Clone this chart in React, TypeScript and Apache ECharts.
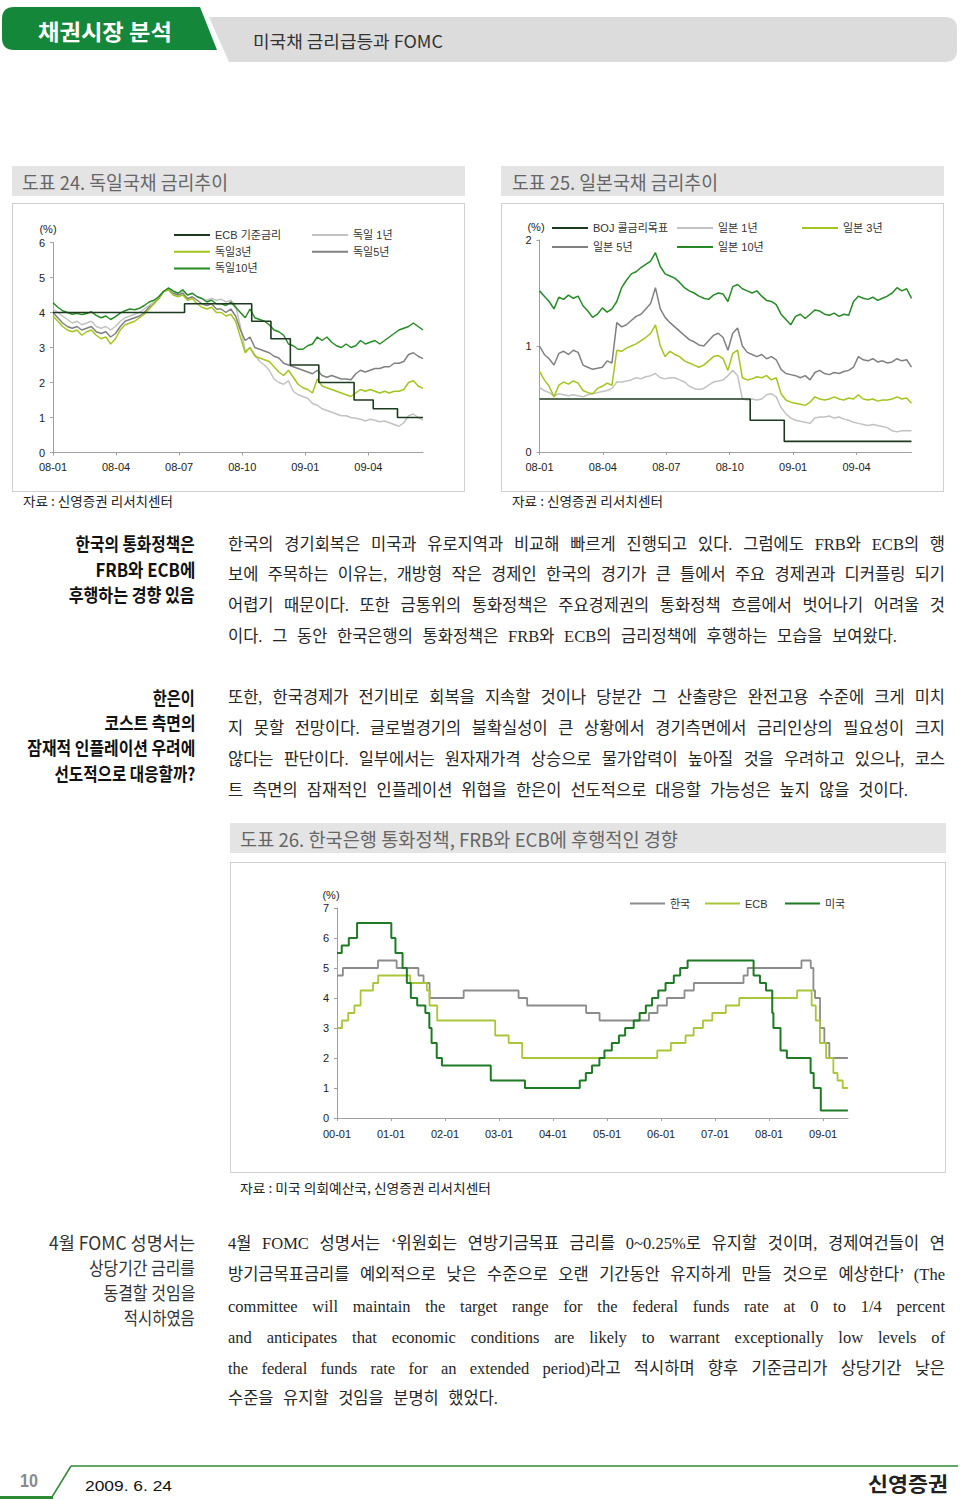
import React, { useEffect, useLayoutEffect, useRef } from 'react';
import * as echarts from 'echarts';

// ---------------- data ----------------
const DE_MONTH_LABELS = ['08-01', '08-04', '08-07', '08-10', '09-01', '09-04'];
const KR_YEAR_LABELS = ['00-01', '01-01', '02-01', '03-01', '04-01', '05-01', '06-01', '07-01', '08-01', '09-01'];

// weekly observations, 2008-01-01 .. 2009-06-19 (78 obs)
const DE_1Y = [4.1, 4.0, 3.9, 3.8, 3.7, 3.75, 3.65, 3.7, 3.75, 3.6,
  3.55, 3.6, 3.5, 3.6, 3.75, 3.85, 3.9, 3.95, 4.0, 4.1,
  4.2, 4.3, 4.45, 4.6, 4.7, 4.6, 4.55, 4.6, 4.5, 4.55,
  4.45, 4.4, 4.35, 4.4, 4.35, 4.38, 4.3, 4.35, 4.2, 3.6,
  2.9, 3.0, 2.8, 2.6, 2.5, 2.35, 2.1, 2.0, 1.95, 2.05,
  1.75, 1.65, 1.6, 1.55, 1.4, 1.35, 1.25, 1.2, 1.15, 1.1,
  1.05, 1.05, 1.0, 0.98, 0.95, 0.9, 0.95, 0.92, 0.88, 0.9,
  0.85, 0.8, 0.75, 0.85, 1.05, 1.1, 1.0, 0.93];
const DE_3Y = [3.9, 3.75, 3.6, 3.5, 3.45, 3.5, 3.35, 3.45, 3.5, 3.35,
  3.25, 3.3, 3.1, 3.25, 3.5, 3.65, 3.7, 3.75, 3.85, 3.95,
  4.1, 4.25, 4.4, 4.6, 4.65, 4.5, 4.45, 4.5, 4.35, 4.4,
  4.25, 4.15, 4.1, 4.15, 4.0, 4.0, 3.9, 3.95, 3.75, 3.3,
  2.85, 3.0, 2.75, 2.7, 2.65, 2.6, 2.45, 2.3, 2.2, 2.35,
  2.15, 1.95, 1.85, 1.8, 1.7, 2.1, 1.9, 1.85, 1.8, 1.75,
  1.7, 1.65, 1.6, 1.7, 1.8, 1.75, 1.8, 1.75, 1.7, 1.75,
  1.7, 1.75, 1.75, 1.8, 2.0, 2.05, 1.9, 1.83];
const DE_5Y = [4.0, 3.85, 3.7, 3.6, 3.55, 3.6, 3.5, 3.55, 3.6, 3.45,
  3.4, 3.45, 3.3, 3.4, 3.6, 3.75, 3.8, 3.85, 3.9, 4.0,
  4.15, 4.25, 4.4, 4.6, 4.65, 4.55, 4.5, 4.55, 4.4, 4.45,
  4.35, 4.25, 4.2, 4.25, 4.1, 4.1, 4.0, 4.1, 3.9, 3.5,
  3.2, 3.3, 3.0, 2.95, 2.9, 2.85, 2.75, 2.7, 2.55, 2.5,
  2.45, 2.4, 2.35, 2.3, 2.25, 2.35, 2.2, 2.15, 2.2, 2.15,
  2.1, 2.1, 2.08, 2.25, 2.35, 2.3, 2.35, 2.4, 2.4, 2.45,
  2.45, 2.55, 2.55, 2.6, 2.8, 2.85, 2.75, 2.68];
const DE_10Y = [4.28, 4.15, 4.05, 4.0, 3.95, 3.98, 3.94, 3.97, 4.02, 3.92,
  3.85, 3.9, 3.8, 3.88, 3.98, 4.05, 4.1, 4.08, 4.12, 4.2,
  4.3, 4.35, 4.45, 4.6, 4.7, 4.62, 4.55, 4.65, 4.5, 4.55,
  4.45, 4.4, 4.3, 4.35, 4.25, 4.25, 4.2, 4.3, 4.15, 4.0,
  3.85, 4.1, 3.85, 3.8, 3.75, 3.65, 3.5, 3.45, 3.35, 3.1,
  3.05, 2.95, 2.95, 3.05, 3.1, 3.3, 3.2, 3.3, 3.15, 3.05,
  3.0, 3.1, 3.0, 3.05, 3.2, 3.1, 3.15, 3.2, 3.1, 3.2,
  3.3, 3.4, 3.5, 3.55, 3.6, 3.7, 3.6, 3.5];
const ECB_RATE_0809: [string, number][] = [['2008-01-01', 4.0], ['2008-07-09', 4.25], ['2008-10-15', 3.75],
  ['2008-11-12', 3.25], ['2008-12-10', 2.5], ['2009-01-21', 2.0], ['2009-03-11', 1.5],
  ['2009-04-08', 1.25], ['2009-05-13', 1.0], ['2009-06-19', 1.0]];

const JP_1Y = [0.61, 0.58, 0.56, 0.53, 0.55, 0.54, 0.53, 0.54, 0.53, 0.52,
  0.54, 0.55, 0.56, 0.57, 0.58, 0.6, 0.66, 0.66, 0.67, 0.68,
  0.7, 0.69, 0.71, 0.72, 0.74, 0.7, 0.69, 0.7, 0.7, 0.68,
  0.66, 0.62, 0.6, 0.59, 0.6, 0.63, 0.66, 0.67, 0.68, 0.72,
  0.77, 0.72, 0.5, 0.49, 0.5, 0.49, 0.5, 0.54, 0.55, 0.52,
  0.42, 0.36, 0.32, 0.3, 0.29, 0.28, 0.27, 0.32, 0.33, 0.33,
  0.34, 0.32, 0.33, 0.31, 0.3, 0.28, 0.27, 0.26, 0.25, 0.26,
  0.25, 0.24, 0.23, 0.2, 0.19, 0.2, 0.2, 0.2];
const JP_3Y = [0.76, 0.68, 0.62, 0.52, 0.63, 0.66, 0.64, 0.67, 0.65, 0.58,
  0.56, 0.55, 0.6, 0.62, 0.65, 0.63, 0.96, 0.95, 0.98, 1.0,
  1.02, 1.05, 1.08, 1.12, 1.2, 1.0, 0.9, 0.95, 0.92, 0.9,
  0.86, 0.84, 0.82, 0.8, 0.82, 0.86, 0.9, 0.91, 0.88, 0.77,
  0.93, 0.96, 0.7, 0.68, 0.69, 0.71, 0.7, 0.72, 0.68, 0.7,
  0.55, 0.49, 0.47, 0.46, 0.45, 0.44, 0.47, 0.52, 0.5, 0.49,
  0.5, 0.52, 0.5, 0.49, 0.51, 0.5, 0.54, 0.5, 0.49, 0.5,
  0.48, 0.49, 0.49, 0.5, 0.52, 0.5, 0.51, 0.46];
const JP_5Y = [1.0, 0.92, 0.88, 0.82, 0.93, 0.95, 0.92, 0.96, 0.94, 0.82,
  0.8, 0.78, 0.79, 0.8, 0.86, 0.84, 1.22, 1.18, 1.2, 1.24,
  1.28, 1.3, 1.35, 1.4, 1.55, 1.35, 1.27, 1.22, 1.18, 1.14,
  1.1, 1.06, 1.04, 1.01, 1.0, 1.05, 1.1, 1.12, 1.08, 0.96,
  1.12, 1.17, 1.0, 0.94, 0.92, 0.9, 0.92, 0.88, 0.9, 0.87,
  0.78, 0.74, 0.73, 0.72, 0.7, 0.72, 0.68, 0.75, 0.77, 0.74,
  0.73, 0.75, 0.74, 0.76, 0.77, 0.8, 0.9, 0.87, 0.86, 0.88,
  0.85, 0.86, 0.84, 0.85, 0.88, 0.86, 0.87, 0.8];
const JP_10Y = [1.52, 1.47, 1.42, 1.35, 1.46, 1.44, 1.48, 1.45, 1.47, 1.38,
  1.33, 1.27, 1.3, 1.36, 1.32, 1.35, 1.42, 1.55, 1.62, 1.68,
  1.7, 1.74, 1.77, 1.8, 1.88, 1.75, 1.68, 1.66, 1.64, 1.6,
  1.55, 1.52, 1.5, 1.47, 1.45, 1.44, 1.48, 1.5, 1.49, 1.42,
  1.56, 1.58, 1.54, 1.52, 1.5, 1.52, 1.47, 1.43, 1.42, 1.39,
  1.3, 1.25, 1.2, 1.28, 1.3, 1.26, 1.3, 1.34, 1.33, 1.3,
  1.29, 1.31, 1.28, 1.3, 1.29, 1.42, 1.47, 1.45, 1.44, 1.46,
  1.43, 1.45, 1.47, 1.5, 1.55, 1.52, 1.54, 1.45];
const BOJ_RATE: [string, number][] = [['2008-01-01', 0.5], ['2008-10-31', 0.3], ['2008-12-19', 0.1], ['2009-06-19', 0.1]];

// policy-rate change dates 2000 - 2009
const KOREA_RATE: [string, number][] = [['2000-01-01', 4.75], ['2000-02-10', 5.0], ['2000-10-05', 5.25], ['2001-02-08', 5.0],
  ['2001-07-05', 4.75], ['2001-08-09', 4.5], ['2001-09-19', 4.0], ['2002-05-07', 4.25], ['2003-05-13', 4.0],
  ['2003-07-10', 3.75], ['2004-08-12', 3.5], ['2004-11-11', 3.25], ['2005-10-11', 3.5], ['2005-12-08', 3.75],
  ['2006-02-09', 4.0], ['2006-06-08', 4.25], ['2006-08-10', 4.5], ['2007-07-12', 4.75], ['2007-08-09', 5.0],
  ['2008-08-07', 5.25], ['2008-10-09', 5.0], ['2008-10-27', 4.25], ['2008-11-07', 4.0], ['2008-12-11', 3.0],
  ['2009-01-09', 2.5], ['2009-02-12', 2.0], ['2009-06-17', 2.0]];
const ECB_RATE: [string, number][] = [['2000-01-01', 3.0], ['2000-02-04', 3.25], ['2000-03-17', 3.5], ['2000-04-28', 3.75],
  ['2000-06-09', 4.25], ['2000-09-01', 4.5], ['2000-10-06', 4.75], ['2001-05-11', 4.5], ['2001-08-31', 4.25],
  ['2001-09-18', 3.75], ['2001-11-09', 3.25], ['2002-12-06', 2.75], ['2003-03-07', 2.5], ['2003-06-06', 2.0],
  ['2005-12-06', 2.25], ['2006-03-08', 2.5], ['2006-06-15', 2.75], ['2006-08-09', 3.0], ['2006-10-11', 3.25],
  ['2006-12-13', 3.5], ['2007-03-14', 3.75], ['2007-06-13', 4.0], ['2008-07-09', 4.25], ['2008-10-15', 3.75],
  ['2008-11-12', 3.25], ['2008-12-10', 2.5], ['2009-01-21', 2.0], ['2009-03-11', 1.5], ['2009-04-08', 1.25],
  ['2009-05-13', 1.0], ['2009-06-17', 1.0]];
const US_RATE: [string, number][] = [['2000-01-01', 5.5], ['2000-02-02', 5.75], ['2000-03-21', 6.0], ['2000-05-16', 6.5],
  ['2001-01-03', 6.0], ['2001-01-31', 5.5], ['2001-03-20', 5.0], ['2001-04-18', 4.5], ['2001-05-15', 4.0],
  ['2001-06-27', 3.75], ['2001-08-21', 3.5], ['2001-09-17', 3.0], ['2001-10-02', 2.5], ['2001-11-06', 2.0],
  ['2001-12-11', 1.75], ['2002-11-06', 1.25], ['2003-06-25', 1.0], ['2004-06-30', 1.25], ['2004-08-10', 1.5],
  ['2004-09-21', 1.75], ['2004-11-10', 2.0], ['2004-12-14', 2.25], ['2005-02-02', 2.5], ['2005-03-22', 2.75],
  ['2005-05-03', 3.0], ['2005-06-30', 3.25], ['2005-08-09', 3.5], ['2005-09-20', 3.75], ['2005-11-01', 4.0],
  ['2005-12-13', 4.25], ['2006-01-31', 4.5], ['2006-03-28', 4.75], ['2006-05-10', 5.0], ['2006-06-29', 5.25],
  ['2007-09-18', 4.75], ['2007-10-31', 4.5], ['2007-12-11', 4.25], ['2008-01-22', 3.5], ['2008-01-30', 3.0],
  ['2008-03-18', 2.25], ['2008-04-30', 2.0], ['2008-10-08', 1.5], ['2008-10-29', 1.0], ['2008-12-16', 0.25],
  ['2009-06-17', 0.25]];

// ---------------- text ----------------
const P1 = [
  '한국의 경기회복은 미국과 유로지역과 비교해 빠르게 진행되고 있다. 그럼에도 FRB와 ECB의 행',
  '보에 주목하는 이유는, 개방형 작은 경제인 한국의 경기가 큰 틀에서 주요 경제권과 디커플링 되기',
  '어렵기 때문이다. 또한 금통위의 통화정책은 주요경제권의 통화정책 흐름에서 벗어나기 어려울 것',
  '이다. 그 동안 한국은행의 통화정책은 FRB와 ECB의 금리정책에 후행하는 모습을 보여왔다.',
];
const P2 = [
  '또한, 한국경제가 전기비로 회복을 지속할 것이나 당분간 그 산출량은 완전고용 수준에 크게 미치',
  '지 못할 전망이다. 글로벌경기의 불확실성이 큰 상황에서 경기측면에서 금리인상의 필요성이 크지',
  '않다는 판단이다. 일부에서는 원자재가격 상승으로 물가압력이 높아질 것을 우려하고 있으나, 코스',
  '트 측면의 잠재적인 인플레이션 위협을 한은이 선도적으로 대응할 가능성은 높지 않을 것이다.',
];
const P3 = [
  '4월 FOMC 성명서는 ‘위원회는 연방기금목표 금리를 0~0.25%로 유지할 것이며, 경제여건들이 연',
  '방기금목표금리를 예외적으로 낮은 수준으로 오랜 기간동안 유지하게 만들 것으로 예상한다’ (The',
  'committee will maintain the target range for the federal funds rate at 0 to 1/4 percent',
  'and anticipates that economic conditions are likely to warrant exceptionally low levels of',
  'the federal funds rate for an extended period)라고 적시하며 향후 기준금리가 상당기간 낮은',
  '수준을 유지할 것임을 분명히 했었다.',
];

const FONT = '"Liberation Sans", Arial, "Noto Sans CJK KR", sans-serif';
const KFONT = '"Noto Sans CJK KR", "Liberation Sans", sans-serif';
const SERIF = '"Liberation Serif", "Noto Sans CJK KR", serif';

const C_DARK = '#1c3a1e';
const C_LGRAY = '#c2c2c2';
const C_YG = '#a3c51f';
const C_GRAY = '#808080';
const C_GREEN = '#268a26';
const AXIS = '#a0a0a0';

// ---------------- helpers ----------------
function monthsSince2008(s: string) {
  const [y, m, d] = s.split('-').map(Number);
  const dim = new Date(Date.UTC(y, m, 0)).getUTCDate();
  return (y - 2008) * 12 + (m - 1) + (d - 1) / dim;
}
function yearsSince2000(s: string) {
  const [y, m, d] = s.split('-').map(Number);
  const a = Date.UTC(y, 0, 1);
  const b = Date.UTC(y + 1, 0, 1);
  return y - 2000 + (Date.UTC(y, m - 1, d) - a) / (b - a);
}
const SPAN_MONTHS = 17.6; // 2008-01-01 .. 2009-06-19
const weekly = (arr: number[]) => arr.map((v, i) => [(i * SPAN_MONTHS) / (arr.length - 1), v]);
const byMonth = (arr: [string, number][]) => arr.map(([d, v]) => [monthsSince2008(d), v]);
const byYear = (arr: [string, number][]) => arr.map(([d, v]) => [yearsSince2000(d), v]);

function line(name: string, data: number[][], color: string, idx: number, width = 1.5, step: any = false) {
  return {
    type: 'line', name, data, xAxisIndex: idx, yAxisIndex: idx, symbol: 'none', showSymbol: false,
    step, lineStyle: { color, width }, itemStyle: { color }, emphasis: { disabled: true }, silent: true,
  };
}

function xAxis(gi: number, max: number, ticks: number[], labels: string[], margin: number) {
  return {
    type: 'value', gridIndex: gi, min: 0, max, interval: ticks[1] - ticks[0],
    axisLine: { show: true, lineStyle: { color: AXIS, width: 1 } },
    axisTick: { show: true, length: 3, lineStyle: { color: AXIS }, customValues: ticks },
    splitLine: { show: false },
    axisLabel: {
      customValues: ticks, margin, fontSize: 11, color: '#222', fontFamily: FONT,
      formatter: (v: number) => {
        const k = ticks.indexOf(Math.round(v * 1000) / 1000);
        return k >= 0 ? labels[k] : '';
      },
    },
  };
}
function yAxis(gi: number, max: number) {
  return {
    type: 'value', gridIndex: gi, min: 0, max, interval: 1,
    axisLine: { show: true, lineStyle: { color: AXIS, width: 1 } },
    axisTick: { show: true, length: 3, lineStyle: { color: AXIS } },
    splitLine: { show: false },
    axisLabel: { margin: 8, fontSize: 11, color: '#222', fontFamily: FONT },
  };
}

function buildOption() {
  const legendBase = {
    orient: 'vertical', padding: 0, itemWidth: 36, itemHeight: 2, icon: 'rect', itemGap: 2.7, selectedMode: false,
    textStyle: { fontSize: 11, color: '#333', fontFamily: FONT, lineHeight: 14 },
  };
  const pct = (x: number, y: number) => ({
    type: 'text', x, y, silent: true,
    style: { text: '(%)', fill: '#222', font: `11px ${FONT}`, textAlign: 'center', textVerticalAlign: 'middle' },
  });
  return {
    animation: false,
    textStyle: { fontFamily: FONT },
    grid: [
      { left: 53, top: 242.5, width: 370, height: 210 },
      { left: 539.5, top: 240, width: 372, height: 212 },
      { left: 337, top: 908, width: 511, height: 210 },
    ],
    xAxis: [
      xAxis(0, SPAN_MONTHS, [0, 3, 6, 9, 12, 15], DE_MONTH_LABELS, 9),
      xAxis(1, SPAN_MONTHS, [0, 3, 6, 9, 12, 15], DE_MONTH_LABELS, 9),
      xAxis(2, 9.46, [0, 1, 2, 3, 4, 5, 6, 7, 8, 9], KR_YEAR_LABELS, 10),
    ],
    yAxis: [yAxis(0, 6), yAxis(1, 2), yAxis(2, 7)],
    legend: [
      { ...legendBase, left: 174, top: 228, data: ['ECB 기준금리', '독일3년', '독일10년'] },
      { ...legendBase, left: 312, top: 228, data: ['독일 1년', '독일5년'] },
      { ...legendBase, left: 552, top: 221, itemGap: 5, data: ['BOJ 콜금리목표', '일본 5년'] },
      { ...legendBase, left: 677, top: 221, itemGap: 5, data: ['일본 1년', '일본 10년'] },
      { ...legendBase, left: 802, top: 221, data: ['일본 3년'] },
      { ...legendBase, left: 630, top: 896.5, itemWidth: 35, data: ['한국'] },
      { ...legendBase, left: 705, top: 896.5, itemWidth: 35, data: ['ECB'] },
      { ...legendBase, left: 785, top: 896.5, itemWidth: 35, data: ['미국'] },
    ],
    graphic: [pct(48, 228.5), pct(536, 227), pct(331, 894.5)],
    series: [
      line('독일 1년', weekly(DE_1Y), C_LGRAY, 0),
      line('독일5년', weekly(DE_5Y), C_GRAY, 0),
      line('독일3년', weekly(DE_3Y), C_YG, 0),
      line('독일10년', weekly(DE_10Y), C_GREEN, 0),
      line('ECB 기준금리', byMonth(ECB_RATE_0809), C_DARK, 0, 1.6, 'end'),

      line('일본 1년', weekly(JP_1Y), C_LGRAY, 1),
      line('일본 5년', weekly(JP_5Y), C_GRAY, 1),
      line('일본 3년', weekly(JP_3Y), C_YG, 1),
      line('일본 10년', weekly(JP_10Y), C_GREEN, 1),
      line('BOJ 콜금리목표', byMonth(BOJ_RATE), C_DARK, 1, 1.6, 'end'),

      line('한국', byYear(KOREA_RATE), '#8c8c8c', 2, 1.8, 'end'),
      line('ECB', byYear(ECB_RATE), '#a9c63a', 2, 1.8, 'end'),
      line('미국', byYear(US_RATE), '#1e7a24', 2, 2, 'end'),
    ],
  };
}

// ---------------- text component that fits a target width ----------------
type FitProps = {
  text: string; x: number; y: number; w: number; size: number; weight?: number; color?: string;
  family?: string; right?: boolean; spread?: boolean; lh?: number;
};
function Fit({ text, x, y, w, size, weight = 400, color = '#222', family = KFONT, right = false, spread = false, lh }: FitProps) {
  const ref = useRef<HTMLDivElement>(null);
  useLayoutEffect(() => {
    const el = ref.current;
    if (!el) return;
    let alive = true;
    const apply = () => {
      if (!alive) return;
      if (spread) {
        el.style.wordSpacing = '0px';
        const nat = el.getBoundingClientRect().width;
        const n = (text.match(/ /g) || []).length;
        if (n > 0) el.style.wordSpacing = `${(w - nat) / n}px`;
      } else {
        el.style.transform = 'none';
        const nat = el.getBoundingClientRect().width;
        if (nat > 0) el.style.transform = `scaleX(${w / nat})`;
      }
    };
    apply();
    const fs: any = (document as any).fonts;
    if (fs && fs.ready) fs.ready.then(apply);
    return () => { alive = false; };
  }, [text, w, spread]);
  const h = lh ?? Math.round(size * 1.4);
  return (
    <div
      ref={ref}
      style={{
        position: 'absolute', top: y - h / 2, left: right ? undefined : x, right: right ? 960 - x : undefined,
        whiteSpace: 'pre', fontSize: size, lineHeight: `${h}px`, fontWeight: weight, color, fontFamily: family,
        transformOrigin: right ? 'right center' : 'left center',
      }}
    >
      {text}
    </div>
  );
}

function Paragraph({ lines, ys, lastW }: { lines: string[]; ys: number[]; lastW: number }) {
  return (
    <>
      {lines.map((t, i) => (
        <Fit key={i} text={t} x={228} y={ys[i]} w={i === lines.length - 1 ? lastW : 717} size={16.5}
          color="#262626" family={SERIF} spread />
      ))}
    </>
  );
}

export default function App() {
  const chartRef = useRef<HTMLDivElement>(null);
  useEffect(() => {
    const chart = echarts.init(chartRef.current as HTMLDivElement, undefined, { renderer: 'svg' });
    chart.setOption(buildOption() as any);
    return () => chart.dispose();
  }, []);

  const side = (t: string, y: number, w: number, weight = 700, color = '#111') => (
    <Fit key={t} text={t} x={195} y={y} w={w} size={18} weight={weight} color={color} right />
  );

  return (
    <div style={{ position: 'absolute', left: 0, top: 0, width: 960, height: 1499, background: '#fff', overflow: 'hidden' }}>
      <svg width={960} height={1499} style={{ position: 'absolute', left: 0, top: 0 }}>
        <path d="M14,7 H200 L217,50 H14 Q2,50 2,38 V19 Q2,7 14,7 Z" fill="#15873a" />
        <path d="M209,17 H945 Q957,17 957,29 V50 Q957,62 945,62 H229 Z" fill="#dcdcdc" />
        <rect x={12} y={166} width={453} height={30} fill="#e4e4e4" />
        <rect x={501} y={166} width={443} height={30} fill="#e4e4e4" />
        <rect x={12.5} y={203.5} width={452} height={288} fill="none" stroke="#d0d0d0" />
        <rect x={501.5} y={203.5} width={442} height={288} fill="none" stroke="#d0d0d0" />
        <rect x={230} y={823} width={716} height={30} fill="#e4e4e4" />
        <rect x={230.5} y={862.5} width={715} height={310} fill="none" stroke="#d0d0d0" />
        <line x1={71} y1={1466} x2={958} y2={1466} stroke="#2f8a35" strokeWidth={1.5} />
        <line x1={52} y1={1497} x2={71} y2={1466} stroke="#2f8a35" strokeWidth={1.5} />
        <line x1={0} y1={1497.5} x2={53} y2={1497.5} stroke="#2f8a35" strokeWidth={3} />
      </svg>

      <div ref={chartRef} style={{ position: 'absolute', left: 0, top: 0, width: 960, height: 1499 }} />

      {/* header */}
      <Fit text="채권시장 분석" x={38} y={30} w={134} size={22} weight={700} color="#ffffff" />
      <Fit text="미국채 금리급등과 FOMC" x={253} y={41} w={190} size={17} color="#333" />

      {/* chart titles and sources */}
      <Fit text="도표 24. 독일국채 금리추이" x={22} y={181} w={206} size={19} color="#666" />
      <Fit text="도표 25. 일본국채 금리추이" x={512} y={181} w={206} size={19} color="#666" />
      <Fit text="자료 : 신영증권 리서치센터" x={23} y={501} w={150} size={13} color="#222" />
      <Fit text="자료 : 신영증권 리서치센터" x={512} y={501} w={151} size={13} color="#222" />
      <Fit text="도표 26. 한국은행 통화정책, FRB와 ECB에 후행적인 경향" x={240} y={838} w={438} size={19} color="#666" />
      <Fit text="자료 : 미국 의회예산국, 신영증권 리서치센터" x={240} y={1188} w={251} size={13} color="#222" />

      {/* section 1 */}
      {side('한국의 통화정책은', 543, 119)}
      {side('FRB와 ECB에', 569, 100)}
      {side('후행하는 경향 있음', 594, 126)}
      <Paragraph lines={P1} ys={[544, 574.5, 605, 636]} lastW={669} />

      {/* section 2 */}
      {side('한은이', 697, 42)}
      {side('코스트 측면의', 722, 91)}
      {side('잠재적 인플레이션 우려에', 747, 168)}
      {side('선도적으로 대응할까?', 773, 141)}
      <Paragraph lines={P2} ys={[697, 728, 759, 790]} lastW={680} />

      {/* section 3 */}
      {side('4월 FOMC 성명서는', 1242, 146, 400, '#333')}
      {side('상당기간 금리를', 1267, 106, 400, '#333')}
      {side('동결할 것임을', 1292, 92, 400, '#333')}
      {side('적시하였음', 1317, 71, 400, '#333')}
      <Paragraph lines={P3} ys={[1243, 1274.5, 1306, 1337, 1368, 1398.5]} lastW={270} />

      {/* footer */}
      <Fit text="10" x={20} y={1481} w={18} size={18} weight={700} color="#8a8a8a" family={FONT} lh={20} />
      <Fit text="2009. 6. 24" x={85} y={1486} w={87} size={15} color="#111" family={FONT} lh={18} />
      <Fit text="신영증권" x={868} y={1483.5} w={80} size={20} weight={700} color="#222" lh={21} />
    </div>
  );
}
